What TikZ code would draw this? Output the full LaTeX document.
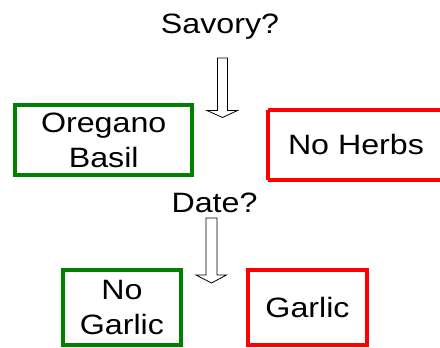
\documentclass[tikz,border=0pt]{standalone}
\usepackage{fontspec}
\setmainfont[FakeStretch=1.15]{Liberation Sans}
\definecolor{boxgreen}{RGB}{0,128,0}
\definecolor{boxred}{RGB}{255,0,0}
\begin{document}
\begin{tikzpicture}[x=1pt,y=-1pt,
  every node/.style={font=\fontsize{28}{35}\selectfont, inner sep=0pt, outer sep=0pt},
  greenbox/.style={draw=boxgreen, line width=4pt, align=center},
  redbox/.style={draw=boxred, line width=4pt, align=center},
  blockarrow/.style={draw=black, line width=0.8pt, fill=white, line join=miter}]
\useasboundingbox (0,0) rectangle (440,348);
\clip (0,0) rectangle (440,348);
\node[greenbox, minimum width=176.7pt, minimum height=69.4pt] (oregano) at (103.7,140) {Oregano\\Basil};
\draw[boxred, line width=4pt] (267.8,109.5) -- (500,109.5) (267.8,179.5) -- (500,179.5) (267.8,109.5) -- (267.8,179.5);
\node (noherbs) at (356,144.5) {No Herbs};
\node[anchor=base] (q1) at (220,34) {Savory?};
\node[anchor=base] (q2) at (214.5,212.5) {Date?};
\node[greenbox, minimum width=117.7pt, minimum height=75pt] (nogarlic) at (121.9,307.2) {No\\Garlic};
\node[redbox, minimum width=119pt, minimum height=75pt] (garlic) at (307.5,307.2) {Garlic};
\draw[blockarrow] (217.5,58) -- (227.5,58) -- (227.5,110.5) -- (237.5,110.5) -- (222.5,117.5) -- (207,110.5) -- (217.5,110.5) -- cycle;
\draw[blockarrow] (206,218) -- (217,218) -- (217,275) -- (226.5,275) -- (211.5,283) -- (196,275) -- (206,275) -- cycle;
\end{tikzpicture}
\end{document}
